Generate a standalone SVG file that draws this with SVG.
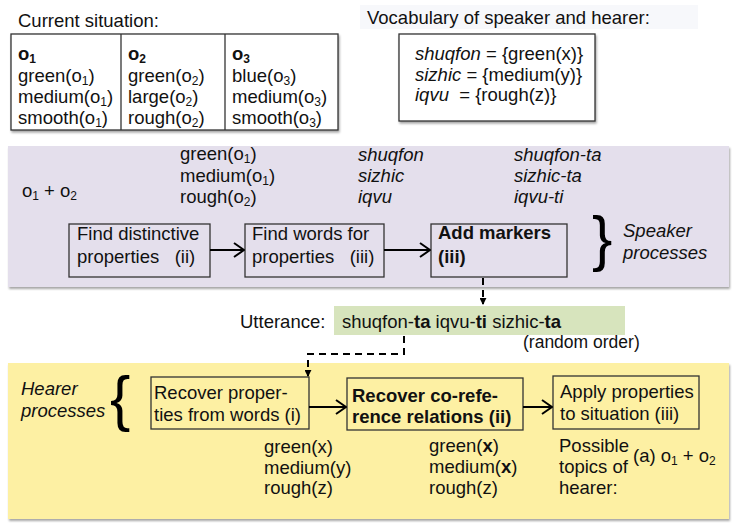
<svg xmlns="http://www.w3.org/2000/svg" width="739" height="530" viewBox="0 0 739 530">
<defs>
<marker id="chev" viewBox="0 0 12 16" refX="11" refY="8" markerWidth="12" markerHeight="16" markerUnits="userSpaceOnUse" orient="auto">
<path d="M1,1 L11,8 L1,15" fill="none" stroke="#000" stroke-width="2"/>
</marker>
<marker id="tri" viewBox="0 0 8 8" refX="7" refY="4" markerWidth="7" markerHeight="7" markerUnits="userSpaceOnUse" orient="auto">
<path d="M0,0 L8,4 L0,8 Z" fill="#000"/>
</marker>
<filter id="sh" x="-5%" y="-5%" width="110%" height="115%">
<feDropShadow dx="1" dy="2" stdDeviation="1.2" flood-color="#000" flood-opacity="0.35"/>
</filter>
</defs>
<style>
text{font-family:"Liberation Sans",Arial,sans-serif;font-size:18.5px;fill:#111}
.i{font-style:italic}
.b{font-weight:bold}
.sub{font-size:12px}
.sm{font-size:17.5px}
.box{fill:none;stroke:#333;stroke-width:1.3}
.tbl{fill:#fff;stroke:#333;stroke-width:1.3}
.conn{fill:none;stroke:#000;stroke-width:2}
.dash{fill:none;stroke:#000;stroke-width:2;stroke-dasharray:7,5}
text.brace{font-family:"Liberation Sans",Arial,sans-serif;font-size:61px;fill:#000}
</style>
<rect width="739" height="530" fill="#fff"/>

<g id="situation">
<text x="18" y="27">Current situation:</text>
<rect class="tbl" x="11" y="34" width="327" height="96" filter="url(#sh)"/>
<line x1="121" y1="34" x2="121" y2="130" stroke="#333" stroke-width="1.3"/>
<line x1="225" y1="34" x2="225" y2="130" stroke="#333" stroke-width="1.3"/>
<text x="18" y="60" class="b">o<tspan class="sub" dy="3">1</tspan></text>
<text x="18" y="82">green(o<tspan class="sub" dy="3">1</tspan><tspan dy="-3">)</tspan></text>
<text x="18" y="103">medium(o<tspan class="sub" dy="3">1</tspan><tspan dy="-3">)</tspan></text>
<text x="18" y="124">smooth(o<tspan class="sub" dy="3">1</tspan><tspan dy="-3">)</tspan></text>
<text x="128" y="60" class="b">o<tspan class="sub" dy="3">2</tspan></text>
<text x="128" y="82">green(o<tspan class="sub" dy="3">2</tspan><tspan dy="-3">)</tspan></text>
<text x="128" y="103">large(o<tspan class="sub" dy="3">2</tspan><tspan dy="-3">)</tspan></text>
<text x="128" y="124">rough(o<tspan class="sub" dy="3">2</tspan><tspan dy="-3">)</tspan></text>
<text x="232" y="60" class="b">o<tspan class="sub" dy="3">3</tspan></text>
<text x="232" y="82">blue(o<tspan class="sub" dy="3">3</tspan><tspan dy="-3">)</tspan></text>
<text x="232" y="103">medium(o<tspan class="sub" dy="3">3</tspan><tspan dy="-3">)</tspan></text>
<text x="232" y="124">smooth(o<tspan class="sub" dy="3">3</tspan><tspan dy="-3">)</tspan></text>
</g>

<g id="vocabulary">
<rect x="360" y="5" width="338" height="24" fill="#f7f8fb"/>
<text x="367" y="24">Vocabulary of speaker and hearer:</text>
<rect class="tbl" x="399" y="34" width="196" height="87" filter="url(#sh)"/>
<text x="415" y="60"><tspan class="i">shuqfon</tspan> = {green(x)}</text>
<text x="415" y="81"><tspan class="i">sizhic</tspan> = {medium(y)}</text>
<text x="415" y="101" xml:space="preserve"><tspan class="i">iqvu</tspan>  = {rough(z)}</text>
</g>

<g id="speaker-panel">
<rect x="8" y="146" width="721" height="141" fill="#e4dfec" filter="url(#sh)"/>
<text x="22" y="197">o<tspan class="sub" dy="3">1</tspan><tspan dy="-3"> + o</tspan><tspan class="sub" dy="3">2</tspan></text>
<text x="180" y="160">green(o<tspan class="sub" dy="3">1</tspan><tspan dy="-3">)</tspan></text>
<text x="180" y="182">medium(o<tspan class="sub" dy="3">1</tspan><tspan dy="-3">)</tspan></text>
<text x="180" y="203">rough(o<tspan class="sub" dy="3">2</tspan><tspan dy="-3">)</tspan></text>
<text x="358" y="161" class="i">shuqfon</text>
<text x="358" y="182" class="i">sizhic</text>
<text x="358" y="203" class="i">iqvu</text>
<text x="514" y="161" class="i">shuqfon-ta</text>
<text x="514" y="182" class="i">sizhic-ta</text>
<text x="514" y="203" class="i">iqvu-ti</text>
<text x="592" y="259" class="brace">}</text>
<text x="623" y="237" class="i">Speaker</text>
<text x="623" y="259" class="i">processes</text>
</g>

<g id="find-distinctive">
<rect class="box" x="69" y="224" width="141" height="53"/>
<text x="77" y="240">Find distinctive</text>
<text x="77" y="263" xml:space="preserve">properties   (ii)</text>
</g>

<g id="find-words">
<rect class="box" x="245" y="224" width="139" height="53"/>
<text x="252" y="240">Find words for</text>
<text x="252" y="263" xml:space="preserve">properties   (iii)</text>
</g>

<g id="add-markers">
<rect class="box" x="431" y="224" width="136" height="53"/>
<text x="438" y="239" class="b">Add markers</text>
<text x="438" y="263" class="b">(iii)</text>
</g>

<g id="utterance">
<text x="240" y="328">Utterance:</text>
<rect x="334" y="306" width="291" height="29" fill="#d7e4bd"/>
<text x="342" y="328">shuqfon-<tspan class="b">ta</tspan> iqvu-<tspan class="b">ti</tspan> sizhic-<tspan class="b">ta</tspan></text>
<text x="523" y="348" class="sm">(random order)</text>
</g>

<g id="hearer-panel">
<rect x="8" y="363" width="721" height="156" fill="#fdf0a3" filter="url(#sh)"/>
<text x="21" y="395" class="i">Hearer</text>
<text x="21" y="417" class="i">processes</text>
<text x="110" y="419" class="brace">{</text>
<text x="264" y="453">green(x)</text>
<text x="264" y="474">medium(y)</text>
<text x="264" y="494">rough(z)</text>
<text x="429" y="452">green(<tspan class="b">x</tspan>)</text>
<text x="429" y="473">medium(<tspan class="b">x</tspan>)</text>
<text x="429" y="494">rough(z)</text>
<text x="559" y="452">Possible</text>
<text x="559" y="473">topics of</text>
<text x="559" y="494">hearer:</text>
<text x="633" y="462">(a) o<tspan class="sub" dy="3">1</tspan><tspan dy="-3"> + o</tspan><tspan class="sub" dy="3">2</tspan></text>
</g>

<g id="recover-properties">
<rect class="box" x="151" y="377" width="158" height="52"/>
<text x="154" y="399">Recover proper-</text>
<text x="154" y="421">ties from words (i)</text>
</g>

<g id="recover-coreference">
<rect class="box" x="347" y="378" width="176" height="52"/>
<text x="352" y="402" class="b">Recover co-refe-</text>
<text x="352" y="423" class="b">rence relations (ii)</text>
</g>

<g id="apply-properties">
<rect class="box" x="553" y="376" width="146" height="53"/>
<text x="560" y="398">Apply properties</text>
<text x="560" y="420">to situation (iii)</text>
</g>

<g id="connectors">
<line class="conn" x1="210" y1="250" x2="244" y2="250" marker-end="url(#chev)"/>
<line class="conn" x1="384" y1="250" x2="430" y2="250" marker-end="url(#chev)"/>
<line class="conn" x1="309" y1="407" x2="346" y2="407" marker-end="url(#chev)"/>
<line class="conn" x1="523" y1="407" x2="552" y2="407" marker-end="url(#chev)"/>
<path class="dash" d="M483,278 V304" marker-end="url(#tri)"/>
<path class="dash" d="M404,336 V354 H308 V376" marker-end="url(#tri)"/>
</g>
</svg>
